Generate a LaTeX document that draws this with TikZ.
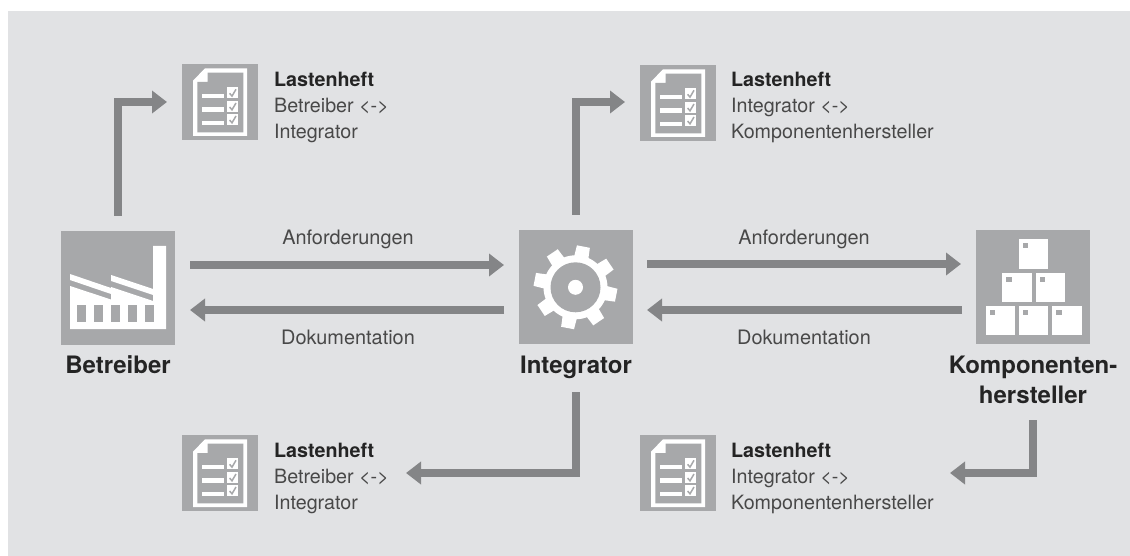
\documentclass[tikz,border=0pt]{standalone}
\usepackage{fontspec}
\setmainfont{TeX Gyre Heros}
\usetikzlibrary{arrows.meta}
\definecolor{bgc}{HTML}{E1E2E4}
\definecolor{boxc}{HTML}{A7A8AA}
\definecolor{arrc}{HTML}{848587}
\definecolor{txtc}{HTML}{484848}
\definecolor{boldc}{HTML}{242424}
\tikzset{
  bigicon/.style={fill=boxc,minimum size=114pt,inner sep=0pt,outer sep=0pt},
  docbox/.style={fill=boxc,minimum size=76pt,inner sep=0pt,outer sep=0pt},
  conn/.style={draw=arrc,line width=8pt,-{Triangle[width=22pt,length=15pt]},arrc},
  plain/.style={font=\fontsize{19.9}{26}\selectfont,text=txtc,inner sep=0pt,anchor=base},
  heading/.style={font=\fontsize{24}{30}\selectfont\bfseries,text=boldc,inner sep=0pt,anchor=base},
  doctext/.style={font=\fontsize{19.7}{26}\selectfont,text=txtc,inner sep=0pt,anchor=base west,align=left},
  docicon/.pic={
    \fill[white] (-27,-21.3) -- (-15,-33.7) -- (27,-33.7) -- (27,34) -- (-27,34) -- cycle;
    \fill[boxc] (-22.7,-20) -- (-12.3,-20) -- (-12.3,-29.3) -- (23.3,-29.3) -- (23.3,30.3) -- (-22.7,30.3) -- cycle;
    \foreach \ly/\by in {-6.2/-14.7,7.5/-1,20.8/12}{
      \fill[white] (-18,\ly-2.1) rectangle (4,\ly+2.1);
      \fill[white] (7,\by) rectangle (18,\by+11);
      \draw[boxc,line width=1.5pt] (9.6,\by+6) -- (12,\by+8.8) -- (16,\by+2);
    }
  }
}
\begin{document}
\begin{tikzpicture}[x=1pt,y=-1pt]
\useasboundingbox (0,0) rectangle (1130,556);
\fill[bgc] (8,11) rectangle (1130,556);
% main icons
\node[bigicon] (bet) at (118,288) {};
\node[bigicon] (int) at (576,287) {};
\node[bigicon] (kom) at (1033,287) {};
% factory
\begin{scope}
\fill[white] (70,274) -- (111,288) -- (111,294) -- (70,280) -- cycle;
\fill[white] (111,275) -- (153,289) -- (153,295) -- (111,281) -- cycle;
\fill[white] (70,286) -- (111,299.5) -- (111,287) -- (153,301) -- (153,246) -- (166,246) -- (166,329) -- (70,329) -- cycle;
\foreach \wx in {77,94,111,128,145}{
  \fill[boxc] (\wx,305) rectangle (\wx+9,321.7);
}
\end{scope}
% gear
\begin{scope}[shift={(575.5,287.3)}]
\fill[white] (0,0) circle (32);
\foreach \a in {-79,-34,11,56,101,146,191,236}{
  \fill[white] (\a-14:30) -- (\a-9:42) -- (\a+9:42) -- (\a+14:30) -- cycle;
}
\fill[boxc] (0,0) circle (25);
\fill[white] (0,0) circle (7.5);
\end{scope}
% boxes
\foreach \bx/\by in {1019/239.3,1002.3/272.7,1035.7/272.7,985.7/306,1019/306,1052.3/306}{
  \fill[white] (\bx,\by) rectangle (\bx+29.3,\by+29.3);
  \fill[boxc] (\bx+4,\by+4) rectangle (\bx+9.2,\by+9.2);
}
% document icons
\node[docbox] (doca) at (220,102) {};
\node[docbox] (docb) at (678,103) {};
\node[docbox] (docc) at (220,473) {};
\node[docbox] (docd) at (678,473) {};
\pic at (doca.center) {docicon};
\pic at (docb.center) {docicon};
\pic at (docc.center) {docicon};
\pic at (docd.center) {docicon};
% connectors
\draw[conn] ([shift={(15,-23)}]bet.east) -- ([shift={(-15,-22)}]int.west);
\draw[conn] ([shift={(-15,23)}]int.west) -- ([shift={(15,22)}]bet.east);
\draw[conn] ([shift={(14,-23)}]int.east) -- ([shift={(-15,-23)}]kom.west);
\draw[conn] ([shift={(-14,23)}]kom.west) -- ([shift={(14,23)}]int.east);
\draw[conn] ([yshift=15pt]bet.north) |- ([xshift=-15pt]doca.west);
\draw[conn] ([yshift=15pt]int.north) |- ([shift={(-15,-1)}]docb.west);
\draw[conn] ([yshift=-48pt]int.south) |- ([xshift=148pt]docc.east);
\draw[conn] ([yshift=-76pt]kom.south) |- ([xshift=234pt]docd.east);
% labels
\node[plain] (la) at (348,245) {Anforderungen};
\node[plain] (lb) at (348,344) {Dokumentation};
\node[plain] (lc) at (804,245) {Anforderungen};
\node[plain] (ld) at (804,344) {Dokumentation};
\node[heading] (ha) at (118,373) {Betreiber};
\node[heading] (hb) at (576,373) {Integrator};
\node[heading] (hc) at (1033,373) {Komponenten-};
\node[heading] (hd) at (1033,403) {hersteller};
% document texts
\node[doctext] (ta) at (274,87) {\textbf{\textcolor{boldc}{Lastenheft}}};
\node[doctext] (tb) at (274,113) {Betreiber <->};
\node[doctext] (tc) at (274,139) {Integrator};
\node[doctext] (td) at (731,87) {\textbf{\textcolor{boldc}{Lastenheft}}};
\node[doctext] (te) at (731,113) {Integrator <->};
\node[doctext] (tf) at (731,139) {Komponentenhersteller};
\node[doctext] (tg) at (274,457) {\textbf{\textcolor{boldc}{Lastenheft}}};
\node[doctext] (th) at (274,483) {Betreiber <->};
\node[doctext] (ti) at (274,509) {Integrator};
\node[doctext] (tj) at (731,457) {\textbf{\textcolor{boldc}{Lastenheft}}};
\node[doctext] (tk) at (731,483) {Integrator <->};
\node[doctext] (tl) at (731,509) {Komponentenhersteller};
\end{tikzpicture}
\end{document}
